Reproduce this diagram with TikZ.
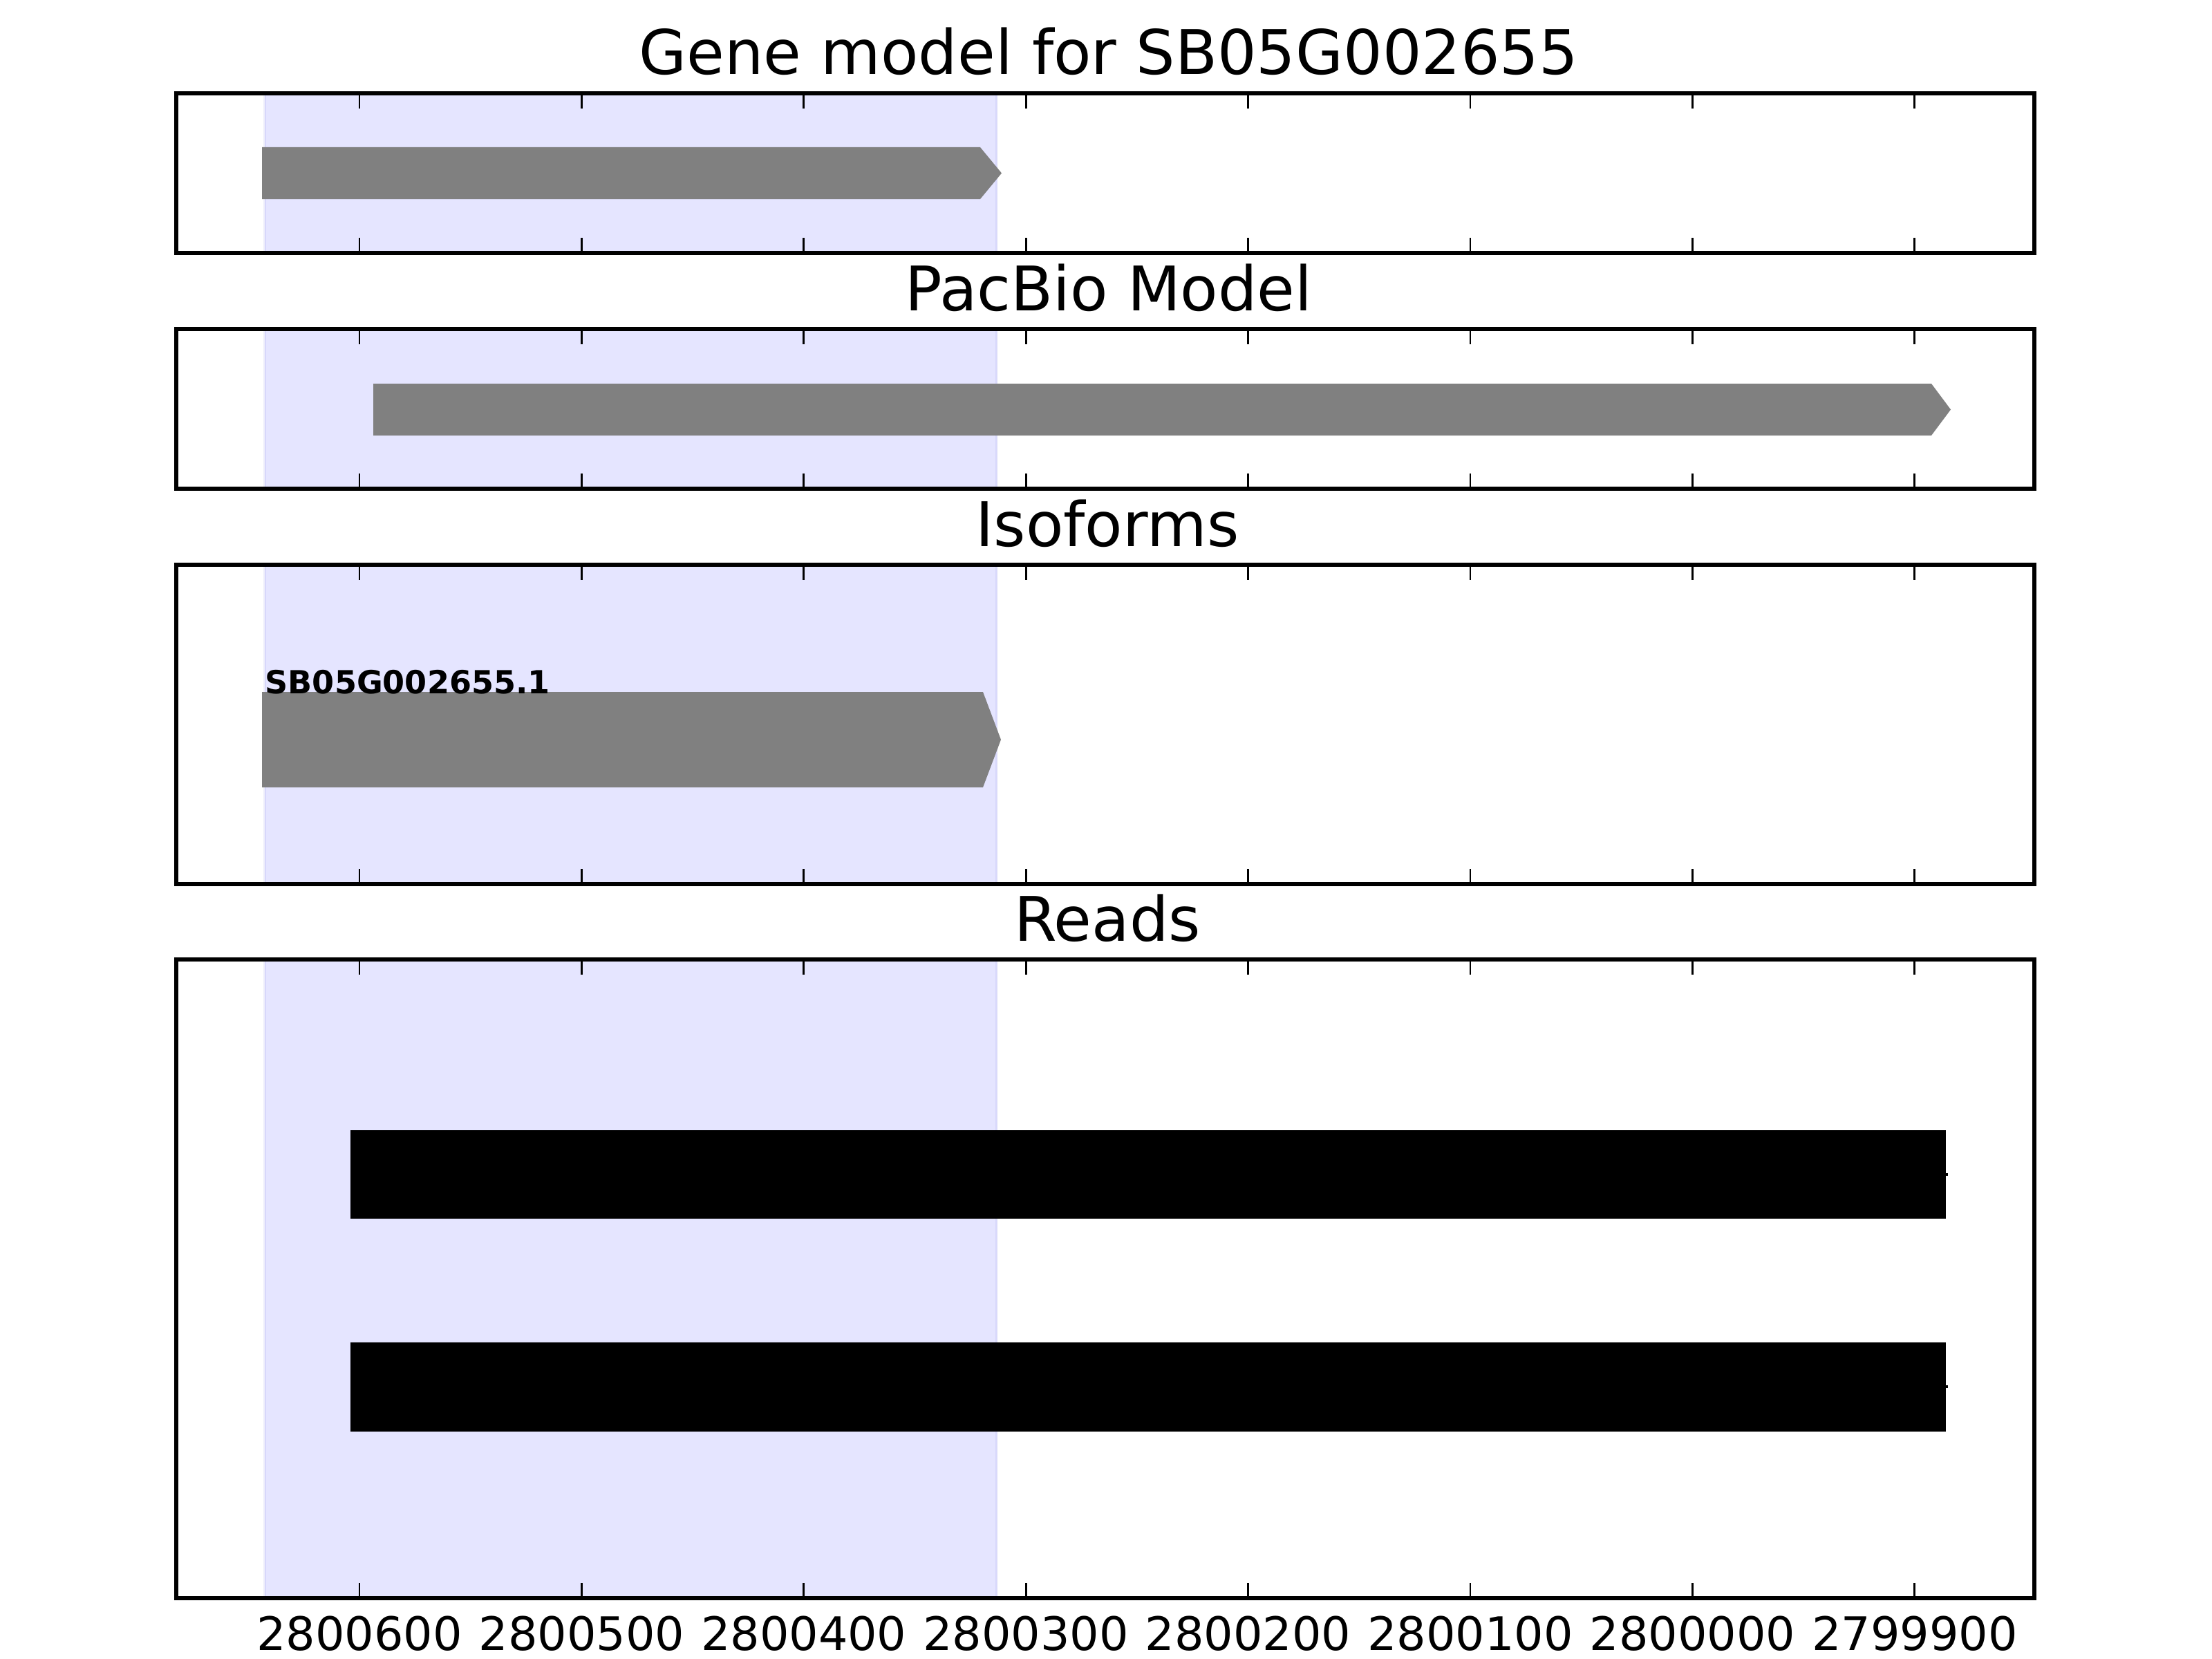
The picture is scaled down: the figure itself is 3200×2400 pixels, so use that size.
\documentclass[tikz,border=0pt]{standalone}
\usepackage{fontspec}
\setmainfont{DejaVu Sans}
\begin{document}
\begin{tikzpicture}[x=0.01cm,y=-0.01cm,
  spine/.style={line width=0.056cm},
  tickmark/.style={line width=0.028cm},
  span/.style={fill=blue,fill opacity=0.1,draw=blue!60!gray,draw opacity=0.08,line width=0.04cm},
  genebar/.style={fill={rgb,255:red,128;green,128;blue,128},draw=none},
  readbar/.style={fill=black,draw=none},
  ptitle/.style={anchor=base,font=\fontsize{25.3}{30}\selectfont,inner sep=0},
  ticklabel/.style={anchor=base,font=\fontsize{19}{23}\selectfont,inner sep=0},
  isolabel/.style={anchor=base west,font=\bfseries\fontsize{13.1}{15}\selectfont,inner sep=0}]
\useasboundingbox[fill=white] (0,0) rectangle (3200,2400);
% highlighted span in each panel
\foreach \t/\b in {135/366,476/707,817/1279,1388/2312}{
  \path[span] (383,\t) rectangle (1442,\b);
}
% gene model
\path[genebar] (379,213) -- (1418,213) -- (1449,250.5) -- (1418,288) -- (379,288) -- cycle;
% PacBio model
\path[genebar] (540,555) -- (2794,555) -- (2822,592.5) -- (2794,630) -- (540,630) -- cycle;
% isoform
\path[genebar] (379,1001) -- (1422,1001) -- (1448,1070) -- (1422,1139) -- (379,1139) -- cycle;
\node[isolabel] (iso) at (383,1003) {SB05G002655.1};
% reads
\path[readbar] (507,1635) rectangle (2815,1763);
\draw[line width=0.045cm] (2805,1699) -- (2818,1699);
\path[readbar] (507,1942) rectangle (2815,2071);
\draw[line width=0.045cm] (2805,2006) -- (2818,2006);
% ticks and spines
\foreach \t/\b/\n in {135/366/a,476/707/b,817/1279/c,1388/2312/d}{
  \foreach \k in {0,...,7}{
    \draw[tickmark] ({520+321.4*\k},\t) -- ({520+321.4*\k},\t+22);
    \draw[tickmark] ({520+321.4*\k},\b) -- ({520+321.4*\k},\b-22);
  }
  \draw[spine] (255,\t) rectangle (2943,\b);
}
% titles
\node[ptitle] (t1) at (1604,108) {Gene model for SB05G002655};
\node[ptitle] (t2) at (1604,449) {PacBio Model};
\node[ptitle] (t3) at (1602,790) {Isoforms};
\node[ptitle] (t4) at (1602,1361) {Reads};
% tick labels
\foreach \k/\lab in {0/2800600,1/2800500,2/2800400,3/2800300,4/2800200,5/2800100,6/2800000,7/2799900}{
  \node[ticklabel] (tl\k) at ({520+321.4*\k},2387) {\lab};
}
\end{tikzpicture}
\end{document}
